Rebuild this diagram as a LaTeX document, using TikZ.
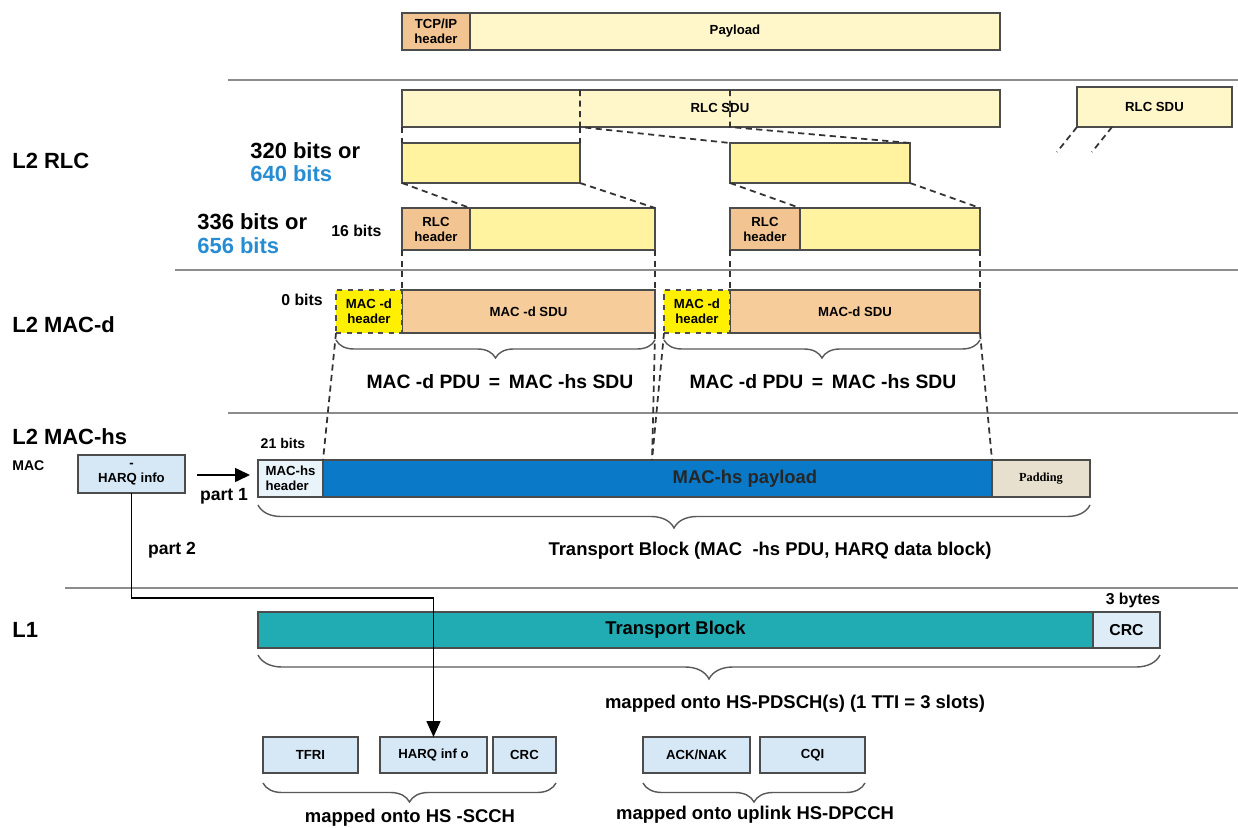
\documentclass[tikz,border=0pt]{standalone}
\usepackage{fontspec}
\setmainfont{Liberation Sans}
\newfontfamily\padfont{Liberation Serif}
\usetikzlibrary{decorations.pathreplacing,arrows.meta}

\definecolor{hdrorange}{RGB}{242,196,145}
\definecolor{paleyellow}{RGB}{255,246,202}
\definecolor{segyellow}{RGB}{255,243,160}
\definecolor{macdyellow}{RGB}{255,240,0}
\definecolor{macorange}{RGB}{247,204,155}
\definecolor{hsheader}{RGB}{232,243,250}
\definecolor{hsblue}{RGB}{10,122,200}
\definecolor{padbeige}{RGB}{232,224,206}
\definecolor{tbteal}{RGB}{32,172,178}
\definecolor{crcblue}{RGB}{222,236,248}
\definecolor{boxblue}{RGB}{214,232,246}
\definecolor{bitblue}{RGB}{40,140,210}

\tikzset{
  blk/.style={draw=black!70, line width=0.8pt, inner sep=0pt, outer sep=0pt,
    anchor=north west, align=center, font=\fontsize{7.5}{8.5}\selectfont\bfseries},
  sz/.style 2 args={minimum width=#1*0.2mm, minimum height=#2*0.2mm},
  seam/.style={draw=black!80, line width=1pt, dash pattern=on 3.5pt off 2.5pt},
  sep/.style={draw=black!45, line width=1.2pt},
  brc/.style={decorate, decoration={brace, mirror, amplitude=#1}, draw=black!65, line width=0.8pt},
  lay/.style={anchor=west, inner sep=0pt, font=\fontsize{12.5}{14}\selectfont\bfseries},
  bits/.style={anchor=west, inner sep=0pt, font=\fontsize{12.5}{14}\selectfont\bfseries},
  smallbits/.style={inner sep=0pt, font=\fontsize{9}{10}\selectfont\bfseries},
  note/.style={inner sep=0pt, font=\fontsize{10.5}{12}\selectfont\bfseries},
}

\begin{document}
\begin{tikzpicture}[x=0.2mm,y=-0.2mm]
\useasboundingbox (0,0) rectangle (1238,828);

%layer separators
\draw[sep] (228,80) -- (1238,80);
\draw[sep] (175,270) -- (1238,270);
\draw[sep] (228,413) -- (1238,413);
\draw[sep] (65,588) -- (1238,588);

%layer names
\node[lay] (lrlc) at (12,161) {L2 RLC};
\node[lay] (lmacd) at (12,325) {L2 MAC-d};
\node[lay] (lmachs) at (12,437) {L2 MAC-hs};
\node[lay, font=\fontsize{8}{9}\selectfont\bfseries] (lmac) at (12,466) {MAC};
\node[lay] (lone) at (12,630) {L1};

%TCP/IP packet
\node[blk, sz={68}{37}, fill=hdrorange] (tcph) at (402,13) {TCP/IP\\header};
\node[blk, sz={530}{37}, fill=paleyellow] (tcpp) at (470,13) {Payload};

%RLC SDUs
\node[blk, sz={598}{37}, fill=paleyellow] (rsdu) at (402,90) {};
\node[smallbits, font=\fontsize{7.5}{8.5}\selectfont\bfseries] (rsdut) at (720,108) {RLC SDU};
\node[blk, sz={155}{40}, fill=paleyellow] (rsdub) at (1077,87) {RLC SDU};

%segments
\node[blk, sz={178}{40}, fill=segyellow] (seg1) at (402,143) {};
\node[blk, sz={180}{40}, fill=segyellow] (seg2) at (730,143) {};
\node[bits] (b320) at (250,151) {320 bits or};
\node[bits, text=bitblue] (b640) at (250,174) {640 bits};

%RLC PDUs
\node[blk, sz={68}{42}, fill=hdrorange] (rh1) at (402,208) {RLC\\header};
\node[blk, sz={185}{42}, fill=segyellow] (rb1) at (470,208) {};
\node[blk, sz={70}{42}, fill=hdrorange] (rh2) at (730,208) {RLC\\header};
\node[blk, sz={180}{42}, fill=segyellow] (rb2) at (800,208) {};
\node[bits] (b336) at (197,222) {336 bits or};
\node[bits, text=bitblue] (b656) at (197,246) {656 bits};
\node[smallbits, anchor=west] (b16) at (331,231) {16 bits};

%MAC-d PDUs
\node[blk, sz={253}{43}, fill=macorange] (mds1) at (402,290) {MAC -d SDU};
\node[blk, sz={66}{43}, fill=macdyellow, dashed] (mdh1) at (336,290) {MAC -d\\header};
\node[blk, sz={250}{43}, fill=macorange] (mds2) at (730,290) {MAC-d SDU};
\node[blk, sz={66}{43}, fill=macdyellow, dashed] (mdh2) at (664,290) {MAC -d\\header};
\node[smallbits, anchor=west] (b0) at (281,300) {0 bits};

\draw[brc=3.6mm] ([yshift=-1.4mm]mdh1.south west) -- ([yshift=-1.4mm]mds1.south east);
\draw[brc=3.6mm] ([yshift=-1.4mm]mdh2.south west) -- ([yshift=-1.4mm]mds2.south east);
\node[note, font=\fontsize{11}{12}\selectfont\bfseries] (pdu1) at (500,382) {MAC -d PDU \,=\, MAC -hs SDU};
\node[note, font=\fontsize{11}{12}\selectfont\bfseries] (pdu2) at (823,382) {MAC -d PDU \,=\, MAC -hs SDU};

%MAC-hs PDU
\node[blk, sz={65}{37}, fill=hsheader, align=left] (mhh) at (258,460) {MAC-hs\\header};
\node[blk, sz={669}{37}, fill=hsblue] (mhp) at (323,460) {};
\node[note, text=black!85] (mhpt) at (745,479) {MAC-hs payload};
\node[blk, sz={98}{37}, fill=padbeige, font=\padfont\fontsize{7}{8}\selectfont\bfseries] (mhpad) at (992,460) {Padding};
\node[smallbits, font=\fontsize{8}{9}\selectfont\bfseries] (b21) at (283,443) {21 bits};

\draw[brc=4.6mm] ([yshift=-1.6mm]mhh.south west) -- ([yshift=-1.6mm]mhpad.south east);
\node[note] (tblab) at (770,551) {Transport Block (MAC\ \ -hs PDU, HARQ data block)};

%HARQ info
\node[blk, sz={107}{38}, fill=boxblue] (harq) at (78,455) {-\\HARQ info};
\coordinate (p1) at (197,475);
\draw[-{Triangle[length=3mm,width=2.8mm]}, line width=0.9pt, shorten >=1.6mm] (p1) -- (p1 -| mhh.west);
\node[note, font=\fontsize{10}{11}\selectfont\bfseries] (part1) at (224,496) {part 1};
\node[note, font=\fontsize{10}{11}\selectfont\bfseries] (part2) at (172,550) {part 2};

%L1
\node[blk, sz={835}{36}, fill=tbteal, font=\fontsize{10.5}{12}\selectfont\bfseries] (tb) at (258,612) {Transport Block};
\node[blk, sz={67}{36}, fill=crcblue, font=\fontsize{9}{10}\selectfont\bfseries] (crc) at (1093,612) {CRC};
\node[smallbits] (b3) at (1133,600) {3 bytes};

\draw[brc=4.8mm] ([yshift=-1.4mm]tb.south west) -- ([yshift=-1.4mm]crc.south east);
\node[note] (pdsch) at (795,704) {mapped onto HS-PDSCH(s) (1 TTI = 3 slots)};

%control fields
\node[blk, sz={95}{36}, fill=boxblue] (tfri) at (263,737) {TFRI};
\node[blk, sz={107}{36}, fill=boxblue] (hq) at (380,737) {HARQ inf o};
\node[blk, sz={63}{36}, fill=boxblue] (crcs) at (493,737) {CRC};
\node[blk, sz={107}{36}, fill=boxblue] (ack) at (643,737) {ACK/NAK};
\node[blk, sz={105}{36}, fill=boxblue] (cqi) at (760,737) {CQI};

\draw[brc=3.8mm] ([yshift=-2mm]tfri.south west) -- ([yshift=-2mm]crcs.south east);
\draw[brc=3.8mm] ([yshift=-2mm]ack.south west) -- ([yshift=-2mm]cqi.south east);
\node[note] (scch) at (410,818) {mapped onto HS -SCCH};
\node[note] (dpcch) at (755,815) {mapped onto uplink HS-DPCCH};

%part 2 path
\coordinate (turn) at (433.5,598);
\draw[-{Triangle[length=3.2mm,width=2.8mm]}, line width=0.9pt] (harq.south) |- (turn) -- (hq.north);

%segmentation
\draw[seam] (seg1.north east |- rsdu.north) -- (seg1.north east |- rsdu.south) -- (seg2.north west);
\draw[seam] (seg1.north east |- rsdu.south) -- (seg1.north east);
\draw[seam] (rsdu.south west) -- (seg1.north west);
\draw[seam] (seg2.north west |- rsdu.north) -- (seg2.north west |- rsdu.south) -- (seg2.north east);

%header insertion
\draw[seam] (seg1.south west) -- (rh1.north east);
\draw[seam] (seg1.south east) -- (rb1.north east);
\draw[seam] (seg2.south west) -- (rh2.north east);
\draw[seam] (seg2.south east) -- (rb2.north east);

%down to MAC-d
\draw[seam] (rh1.south west) -- (mds1.north west);
\draw[seam] (rb1.south east) -- (mds1.north east);
\draw[seam] (rh2.south west) -- (mds2.north west);
\draw[seam] (rb2.south east) -- (mds2.north east);

%down to MAC-hs
\coordinate (mhmid) at (652,460);
\draw[seam] (mdh1.south west) -- (mhp.north west);
\draw[seam] (mds1.south east) -- (mhmid);
\draw[seam] (mdh2.south west) -- (mhmid);
\draw[seam] (mds2.south east) -- (mhp.north east);

%next SDU
\coordinate (nx1) at (1057,152);
\coordinate (nx2) at (1092,152);
\draw[seam] (rsdub.south west) -- (nx1);
\draw[seam] ([xshift=7mm]rsdub.south west) -- (nx2);
\end{tikzpicture}
\end{document}
